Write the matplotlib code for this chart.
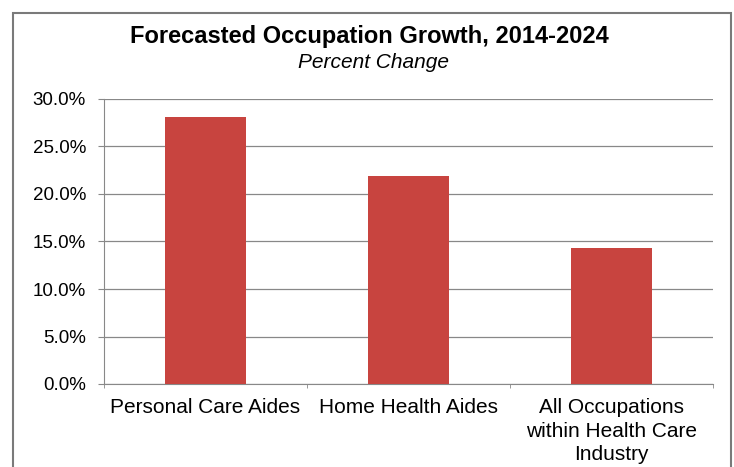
import matplotlib
matplotlib.use('Agg')
import matplotlib.pyplot as plt
from matplotlib.patches import Rectangle
from matplotlib.ticker import FuncFormatter, FixedLocator

# -- Data -------------------------------------------------------------------
categories = ['Personal Care Aides', 'Home Health Aides',
              'All Occupations\nwithin Health Care\nIndustry']
pct_change = [28.1, 21.9, 14.3]

plt.rcParams['font.family'] = ['Liberation Sans', 'DejaVu Sans']

W, H = 734, 467
fig = plt.figure(figsize=(W / 100, H / 100), dpi=100)

# outer chart border (runs off the bottom of the image)
fig.patches.append(Rectangle((12.5 / W, -0.05), (731 - 12.5) / W, 1.05 - 12.5 / H,
                             transform=fig.transFigure, fill=False,
                             edgecolor='#7a7a7a', linewidth=1.5))

ax = fig.add_axes([104 / W, 1 - 384 / H, (713 - 104) / W, (384 - 99) / H])
x = range(len(categories))
ax.bar(x, pct_change, width=0.395, color='#c8443f', zorder=3)

ax.set_xlim(-0.5, 2.5)
ax.set_ylim(0, 30)
ax.set_yticks(range(0, 31, 5))
ax.yaxis.set_major_formatter(FuncFormatter(lambda v, _: f'{v:.1f}%'))
ax.grid(axis='y', color='#888888', linewidth=0.9, zorder=0)
ax.set_xticks(list(x))
ax.set_xticklabels(categories, fontsize=15, linespacing=1.32)
ax.xaxis.set_minor_locator(FixedLocator([-0.5, 0.5, 1.5, 2.5]))
ax.tick_params(axis='x', which='major', length=0, pad=10)
ax.tick_params(axis='x', which='minor', length=3, color='#888888')
ax.tick_params(axis='y', labelsize=13.5, length=4, color='#888888', pad=9)

for s in ['top', 'right']:
    ax.spines[s].set_visible(False)
ax.spines['left'].set_color('#888888')
ax.spines['bottom'].set_color('#888888')

fig.text(369 / W, 1 - 36.5 / H, 'Forecasted Occupation Growth, 2014-2024',
         ha='center', va='center', fontsize=17, fontweight='bold')
fig.text(374 / W, 1 - 62 / H, 'Percent Change',
         ha='center', va='center', fontsize=15, style='italic')

plt.savefig('out.png', dpi=100)
